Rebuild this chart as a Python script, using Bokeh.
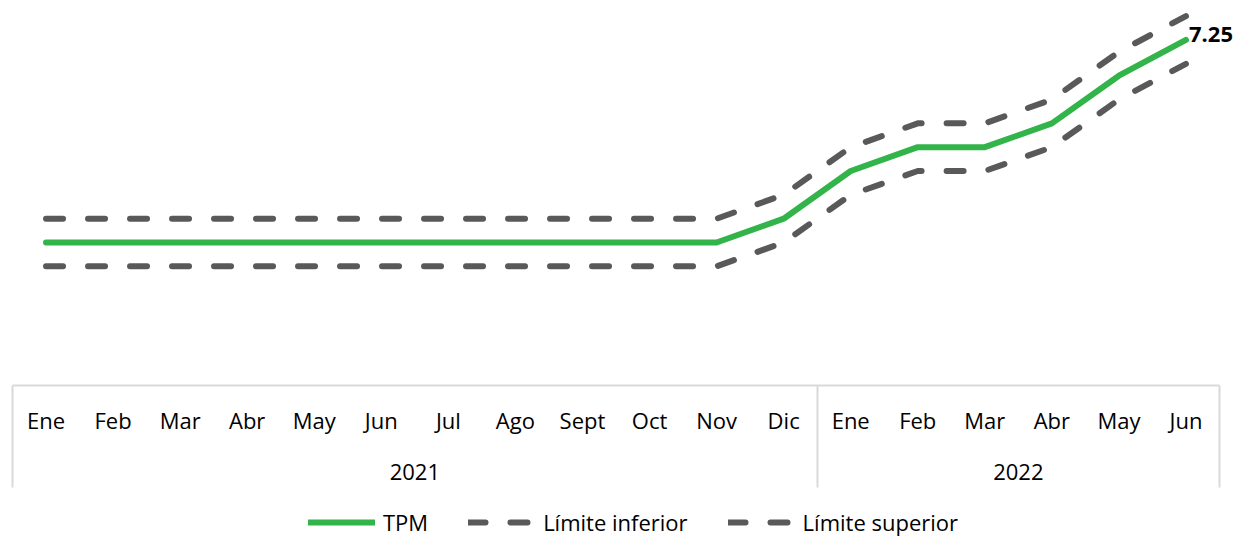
from bokeh.plotting import figure
from bokeh.layouts import column
from bokeh.models import Range1d, LinearAxis, FixedTicker, Legend, LegendItem, Label
from bokeh.embed import file_html
from bokeh.resources import INLINE

months = ["Ene", "Feb", "Mar", "Abr", "May", "Jun", "Jul", "Ago", "Sept", "Oct", "Nov", "Dic",
          "Ene", "Feb", "Mar", "Abr", "May", "Jun"]
years = ["2021", "2022"]
months_per_year = [12, 6]
tpm = [3.0, 3.0, 3.0, 3.0, 3.0, 3.0, 3.0, 3.0, 3.0, 3.0, 3.0, 3.5,
       4.5, 5.0, 5.0, 5.5, 6.5, 7.25]
lower = [2.5, 2.5, 2.5, 2.5, 2.5, 2.5, 2.5, 2.5, 2.5, 2.5, 2.5, 3.0,
         4.0, 4.5, 4.5, 5.0, 6.0, 6.75]
upper = [3.5, 3.5, 3.5, 3.5, 3.5, 3.5, 3.5, 3.5, 3.5, 3.5, 3.5, 4.0,
         5.0, 5.5, 5.5, 6.0, 7.0, 7.75]
series_names = ["TPM", "Límite inferior", "Límite superior"]

x = list(range(len(months)))
bounds = [-0.5]
for n in months_per_year:
    bounds.append(bounds[-1] + n)
year_centers = [(bounds[i] + bounds[i + 1]) / 2 for i in range(len(years))]

FONT = "Open Sans"
GREEN = "#32B44A"
GRAY = "#595959"
AXIS = "#d9d9d9"
SEP = 102
CAT_W = 1207 / len(months)          # pixel width of one month
EXTRA = 20                          # room right of the box for the end label

p = figure(frame_width=1207 + EXTRA, frame_height=377,
           x_range=Range1d(bounds[0], bounds[-1] + EXTRA / CAT_W), y_range=Range1d(0, 7.91),
           output_backend="svg", toolbar_location=None,
           x_axis_location=None, y_axis_location=None,
           min_border_left=12, min_border_right=0, min_border_top=8, min_border_bottom=105)
p.outline_line_color = None
p.grid.visible = False
p.background_fill_color = None
p.border_fill_color = None

line_styles = [dict(line_color=GREEN, line_width=6, line_cap="round", line_join="round"),
               dict(line_color=GRAY, line_width=6, line_dash="17 25", line_cap="round"),
               dict(line_color=GRAY, line_width=6, line_dash="17 25", line_cap="round")]
series = [tpm, lower, upper]

p.line(x, upper, **line_styles[2])
p.line(x, lower, **line_styles[1])
p.line(x, tpm, **line_styles[0])

ax_m = LinearAxis(ticker=FixedTicker(ticks=x, minor_ticks=bounds), bounds=(bounds[0], bounds[-1]),
                  major_label_overrides={i: m for i, m in zip(x, months)},
                  major_tick_line_color=None, major_tick_out=0, major_tick_in=0,
                  minor_tick_out=SEP, minor_tick_in=0, minor_tick_line_color=AXIS, minor_tick_line_width=2,
                  axis_line_color=AXIS, axis_line_width=2,
                  major_label_text_font=FONT, major_label_text_font_size="22px",
                  major_label_text_color="#000000", major_label_standoff=19 - SEP)
ax_y = LinearAxis(ticker=FixedTicker(ticks=year_centers, minor_ticks=[]), bounds=(bounds[0], bounds[-1]),
                  major_label_overrides={c: y for c, y in zip(year_centers, years)},
                  major_tick_line_color=None, major_tick_out=0, major_tick_in=0,
                  minor_tick_out=0, minor_tick_in=0,
                  minor_tick_line_color=None, axis_line_color=None,
                  major_label_text_font=FONT, major_label_text_font_size="22px",
                  major_label_text_color="#000000", major_label_standoff=26)
p.add_layout(ax_m, "below")
p.add_layout(ax_y, "below")

p.add_layout(Label(x=x[-1], y=tpm[-1], text=f"{tpm[-1]:.2f}", x_offset=3, y_offset=5,
                   text_baseline="middle", text_font=FONT, text_font_style="bold",
                   text_font_size="22px", text_color="#000000"))

# legend strip below the chart (series drawn outside its visible range; only the legend shows)
pl = figure(width=1239, height=48, x_range=Range1d(0, 1), y_range=Range1d(-1, 0),
            output_backend="svg", toolbar_location=None,
            x_axis_location=None, y_axis_location=None,
            min_border=0, outline_line_color=None)
pl.grid.visible = False
pl.background_fill_color = None
pl.border_fill_color = None
leg_renderers = [pl.line(x, s, **st) for s, st in zip(series, line_styles)]
legend = Legend(items=[LegendItem(label=n, renderers=[r]) for n, r in zip(series_names, leg_renderers)],
                orientation="horizontal", location=(296, 1),
                border_line_color=None, background_fill_alpha=0,
                glyph_width=67, glyph_height=20, label_standoff=8, spacing=40,
                label_text_font=FONT, label_text_font_size="22px", label_text_color="#000000",
                padding=0, margin=0)
pl.add_layout(legend)

layout = column(p, pl, spacing=0)
open("out.html", "w").write(file_html(layout, INLINE))
